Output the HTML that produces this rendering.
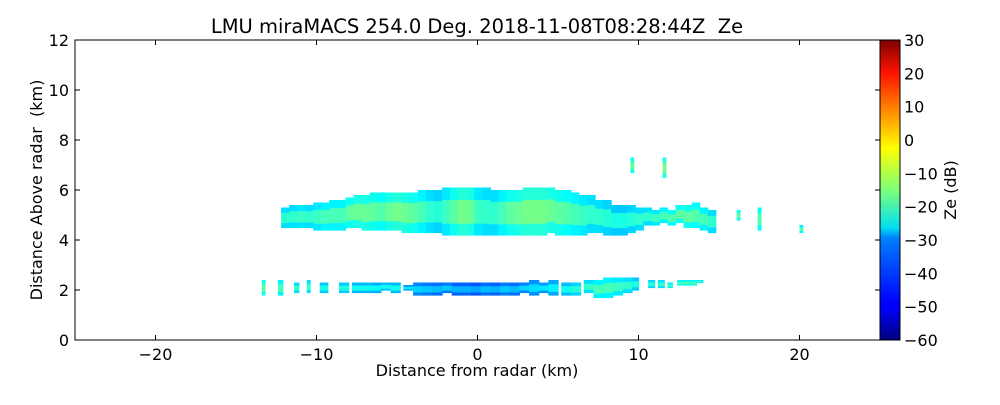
<!DOCTYPE html>
<html><head><meta charset="utf-8"><style>
body{margin:0;background:#fff;}
svg text{font-family:"DejaVu Sans","Liberation Sans",sans-serif;fill:#000;}
</style></head><body>
<svg id="chart" width="1000" height="400" viewBox="0 0 1000 400" xmlns="http://www.w3.org/2000/svg">
<rect width="1000" height="400" fill="#fff"/>
<defs><linearGradient id="jet" x1="0" y1="1" x2="0" y2="0">
<stop offset="0" stop-color="#00007f"/><stop offset="0.11" stop-color="#0000ff"/><stop offset="0.125" stop-color="#0000ff"/>
<stop offset="0.34" stop-color="#0080ff"/><stop offset="0.375" stop-color="#00e0f0"/><stop offset="0.5" stop-color="#7dff7a"/>
<stop offset="0.64" stop-color="#ffff00"/><stop offset="0.89" stop-color="#ff1300"/><stop offset="1" stop-color="#7f0000"/>
</linearGradient></defs>
<g id="marks"></g>
<g id="axes"></g>
<text x="477" y="33" font-size="19.5" text-anchor="middle" xml:space="preserve">LMU miraMACS 254.0 Deg. 2018-11-08T08:28:44Z  Ze</text>
<text x="477" y="376" font-size="16" text-anchor="middle">Distance from radar (km)</text>
<text x="42" y="190" font-size="16" text-anchor="middle" transform="rotate(-90 42 190)" xml:space="preserve">Distance Above radar  (km)</text>
<rect x="880" y="40" width="20" height="300" fill="url(#jet)" stroke="#000" stroke-width="1"/>
<text x="956" y="190" font-size="16" text-anchor="middle" transform="rotate(-90 956 190)">Ze (dB)</text>
</svg>
<script>
const xTicks=[-20,-10,0,10,20];
const yTicks=[0,2,4,6,8,10,12];
const cbTicks=[30,20,10,0,-10,-20,-30,-40,-50,-60];
// upper layer: x (km), top (km), bottom (km), Ze (dB)
const upX=[-12.2,-11.7,-11.2,-10.7,-10.2,-9.7,-9.2,-8.7,-8.2,-7.7,-7.2,-6.7,-6.2,-5.7,-5.2,-4.7,-4.2,-3.7,-3.2,-2.7,-2.2,-1.7,-1.2,-0.7,-0.2,0.3,0.8,1.3,1.8,2.3,2.8,3.3,3.8,4.3,4.8,5.3,5.8,6.3,6.8,7.3,7.8,8.3,8.8,9.3,9.8,10.3,10.8,11.3,11.8,12.3,12.8,13.3,13.8,14.3];
const upTop=[5.3,5.4,5.4,5.4,5.5,5.5,5.6,5.6,5.7,5.8,5.8,5.9,5.9,5.9,5.9,5.9,5.9,6.0,6.0,6.0,6.1,6.1,6.1,6.1,6.1,6.1,6.0,6.0,6.0,6.0,6.1,6.1,6.1,6.1,6.0,6.0,5.9,5.8,5.8,5.6,5.6,5.4,5.4,5.4,5.3,5.3,5.2,5.3,5.2,5.4,5.4,5.5,5.3,5.2];
const upBot=[4.5,4.5,4.5,4.5,4.4,4.4,4.4,4.4,4.5,4.5,4.4,4.4,4.4,4.4,4.4,4.3,4.3,4.3,4.3,4.3,4.2,4.2,4.2,4.2,4.2,4.2,4.2,4.2,4.2,4.2,4.2,4.2,4.2,4.3,4.2,4.2,4.2,4.2,4.3,4.3,4.2,4.2,4.2,4.3,4.4,4.6,4.6,4.7,4.6,4.7,4.5,4.5,4.4,4.3];
const upZe=[-22,-22,-21,-22,-21,-20,-20,-20,-18,-17,-17,-18,-19,-17,-16,-17,-18,-20,-22,-23,-21,-18,-16,-17,-21,-22,-22,-20,-18,-17,-16,-16,-16,-17,-18,-19,-20,-21,-22,-22,-23,-24,-24,-23,-22,-22,-21,-20,-19,-18,-18,-19,-20,-22];
// lower layer segments
const loX=[-13.4,-12.4,-11.4,-10.6,-9.8,-8.6,-7.8,-7.2,-6.6,-6.0,-5.4,-4.6,-4.0,-3.4,-2.8,-2.2,-1.6,-1.0,-0.4,0.2,0.8,1.4,2.0,2.6,3.2,3.8,4.4,5.2,5.8,6.6,7.2,7.8,8.4,9.0,9.6,10.6,11.2,11.8,12.4,13.0,13.6];
const loTop=[2.4,2.4,2.3,2.4,2.3,2.3,2.3,2.3,2.3,2.3,2.3,2.2,2.3,2.3,2.3,2.3,2.3,2.3,2.3,2.3,2.3,2.3,2.3,2.3,2.4,2.3,2.4,2.3,2.3,2.4,2.4,2.5,2.5,2.5,2.5,2.4,2.4,2.3,2.4,2.4,2.4];
const loBot=[1.8,1.8,1.9,1.9,1.9,1.9,1.9,1.9,1.9,2.0,1.9,2.0,1.8,1.8,1.8,1.9,1.8,1.8,1.8,1.8,1.8,1.8,1.8,1.9,1.8,1.9,1.8,1.8,1.8,1.9,1.7,1.7,1.8,1.9,2.0,2.1,2.1,2.1,2.2,2.2,2.3];
const loZe=[-18,-20,-22,-22,-24,-24,-25,-25,-26,-25,-25,-28,-30,-31,-32,-31,-33,-33,-34,-32,-33,-31,-32,-30,-29,-28,-27,-25,-23,-22,-20,-20,-21,-22,-24,-23,-22,-21,-20,-20,-21];
const loW=[0.2,0.3,0.3,0.2,0.5,0.6,0.6,0.6,0.6,0.6,0.6,0.6,0.6,0.6,0.6,0.6,0.6,0.6,0.6,0.6,0.6,0.6,0.6,0.6,0.6,0.6,0.6,0.6,0.6,0.6,0.6,0.6,0.6,0.6,0.4,0.4,0.4,0.3,0.6,0.6,0.4];
// isolated streaks: x, top, bottom, Ze
const stX=[9.5,11.5,16.1,17.4,20.0];
const stTop=[7.3,7.3,5.2,5.3,4.6];
const stBot=[6.7,6.5,4.8,4.4,4.3];
const stZe=[-22,-20,-22,-23,-24];

const X0=75,X1=880,Y0=340,Y1=40;
const sx=v=>X0+(v+25)/50*(X1-X0);
const sy=v=>Y0-(v/12)*(Y0-Y1);
const sc=v=>340-(v+60)/90*300;
function jet(z){let t=(z+60)/90;t=Math.max(0,Math.min(1,t));
 const f=a=>Math.max(0,Math.min(1,a));
 const r=f(Math.min(4*t-1.5,-4*t+4.5)),g=f(Math.min(4*t-0.5,-4*t+3.5)),b=f(Math.min(4*t+0.5,-4*t+2.5));
 return `rgb(${r*255|0},${g*255|0},${b*255|0})`;}
const NS="http://www.w3.org/2000/svg";
const marks=document.getElementById('marks');
function col(x,w,top,bot,ze,name){
 const n=4,h=(top-bot)/n;
 for(let k=0;k<n;k++){
  const edge=(k===0||k===n-1)?-7:0;
  const r=document.createElementNS(NS,'rect');
  
  
  r.setAttribute('x',sx(x));r.setAttribute('width',sx(x+w)-sx(x)+0.6);
  r.setAttribute('y',sy(bot+(k+1)*h));r.setAttribute('height',sy(bot+k*h)-sy(bot+(k+1)*h)+0.6);
  r.setAttribute('fill',jet(ze+edge));marks.appendChild(r);}
}
upX.forEach((x,i)=>col(x,0.5,upTop[i],upBot[i],upZe[i],'upper-cloud-cell'));
loX.forEach((x,i)=>col(x,loW[i],loTop[i],loBot[i],loZe[i],'lower-cloud-cell'));
stX.forEach((x,i)=>col(x,0.2,stTop[i],stBot[i],stZe[i]+4,'streak-cell'));

const ax=document.getElementById('axes');
function el(tag,attrs,name,txt){const e=document.createElementNS(NS,tag);for(const k in attrs)e.setAttribute(k,attrs[k]);
 
 
 if(txt!==undefined)e.textContent=txt;ax.appendChild(e);return e;}
el('rect',{x:X0,y:Y1,width:X1-X0,height:Y0-Y1,fill:'none',stroke:'#000','stroke-width':1},'plot-frame');
xTicks.forEach(v=>{const x=sx(v);
 el('line',{x1:x,x2:x,y1:Y0,y2:Y0-5,stroke:'#000'},'x-tick');
 el('line',{x1:x,x2:x,y1:Y1,y2:Y1+5,stroke:'#000'},'x-tick-top');
 el('text',{x:x,y:Y0+20,'font-size':16,'text-anchor':'middle'},'x-tick-label',v<0?'\u2212'+(-v):String(v));});
yTicks.forEach(v=>{const y=sy(v);
 el('line',{x1:X0,x2:X0+5,y1:y,y2:y,stroke:'#000'},'y-tick');
 el('line',{x1:X1,x2:X1-5,y1:y,y2:y,stroke:'#000'},'y-tick-right');
 el('text',{x:X0-6,y:y+6,'font-size':16,'text-anchor':'end'},'y-tick-label',String(v));});
cbTicks.forEach(v=>{const y=sc(v);
 el('text',{x:904,y:y+6,'font-size':16},'colorbar-tick-label',v<0?'\u2212'+(-v):String(v));});
</script>
</body></html>
